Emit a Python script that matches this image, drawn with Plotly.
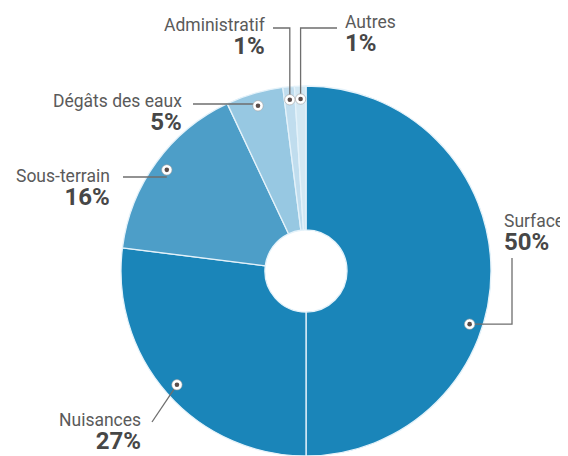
import math
import plotly.graph_objects as go

# data
labels = ["Surface", "Nuisances", "Sous-terrain", "Dégâts des eaux", "Administratif", "Autres"]
values = [50, 27, 16, 5, 1, 1]
pct_text = ["50%", "27%", "16%", "5%", "1%", "1%"]
colors = ["#1a85b9", "#1a85b9", "#4d9ec8", "#97c8e2", "#c0ddee", "#d3e8f3"]

# the page body has an 8px margin, so the figure is a bit smaller than the window
OFF = 8
W, H = 568 - OFF, 456 - OFF
cx, cy, R = 306, 271, 185  # pie centre / radius, window px
hole = 0.222


def px(x, y):
    return (x - OFF) / W, 1 - (y - OFF) / H


# label placement (window px): side, label block centre, line start
label_pos = {
    "Surface":         dict(side="left",  pos=(502, 233), start=(512, 258)),
    "Nuisances":       dict(side="right", pos=(143, 432), start=(152, 422)),
    "Sous-terrain":    dict(side="right", pos=(112, 188), start=(123, 177)),
    "Dégâts des eaux": dict(side="right", pos=(184, 113), start=(193, 104)),
    "Administratif":   dict(side="right", pos=(268, 37),  start=(273, 28)),
    "Autres":          dict(side="left",  pos=(343, 34),  start=(337, 28)),
}
dot_angle_override = {"Surface": 108}

fig = go.Figure()

fig.add_trace(go.Pie(
    values=values, labels=labels, sort=False, direction="clockwise", rotation=0,
    hole=hole, textinfo="none", hoverinfo="label+percent", showlegend=False,
    marker=dict(colors=colors, line=dict(color="#e4f2fa", width=1.3)),
    domain=dict(x=[(cx - R - OFF) / W, (cx + R - OFF) / W],
                y=[1 - (cy + R - OFF) / H, 1 - (cy - R - OFF) / H]),
))

# dots at the middle of each slice
total = sum(values)
acc = 0
dots = {}
for lab, v in zip(labels, values):
    mid = (acc + v / 2) / total * 360
    acc += v
    ang = math.radians(dot_angle_override.get(lab, mid))
    r = R * 0.93
    dots[lab] = (cx + r * math.sin(ang), cy - r * math.cos(ang))

shapes = []
line_col = "#6e6e6e"
for lab in labels:
    p = label_pos[lab]
    s, d = p["start"], dots[lab]
    if lab in ("Administratif", "Autres"):
        pts = [s, (d[0], s[1]), d]
    elif lab == "Surface":
        pts = [s, (s[0], d[1]), d]
    elif lab == "Nuisances":
        pts = [s, d]
    else:
        pts = [s, (d[0], s[1])]
        d = (d[0], s[1])
    path = ""
    for i, q in enumerate(pts):
        u, w = px(*q)
        path += ("M" if i == 0 else " L") + f" {u:.5f},{w:.5f}"
    shapes.append(dict(type="path", path=path, xref="paper", yref="paper",
                       line=dict(color=line_col, width=1.3), layer="above"))

for lab in labels:
    x, y = dots[lab]
    for rad, fill, lc, lw in [(5.2, "white", "#a0a0a0", 0.6), (2.3, "#5b4d4a", "#5b4d4a", 0)]:
        x0, y0 = px(x - rad, y + rad)
        x1, y1 = px(x + rad, y - rad)
        shapes.append(dict(type="circle", xref="paper", yref="paper", x0=x0, y0=y0, x1=x1, y1=y1,
                           fillcolor=fill, line=dict(color=lc, width=lw), layer="above"))

annotations = []
for lab, pt in zip(labels, pct_text):
    p = label_pos[lab]
    xa = "left" if p["side"] == "left" else "right"
    u, w = px(*p["pos"])
    txt = (lab + "<br><span style='font-size:24px;color:#474747'><b>" + pt + "</b></span>")
    annotations.append(dict(x=u, y=w, xref="paper", yref="paper", text=txt, showarrow=False,
                            xanchor=xa, yanchor="middle", align=xa,
                            font=dict(family="Roboto", size=17.5, color="#5a5a5a")))

fig.update_layout(
    width=W, height=H,
    margin=dict(l=0, r=0, t=0, b=0),
    paper_bgcolor="white",
    shapes=shapes,
    annotations=annotations,
)

fig.write_html("out.html")
